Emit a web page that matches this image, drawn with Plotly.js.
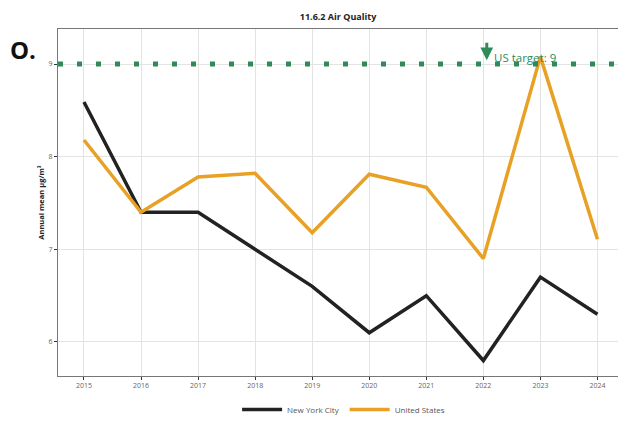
<!DOCTYPE html>
<html>
<head>
<meta charset="utf-8">
<script src="https://cdn.plot.ly/plotly-3.0.1.min.js"></script>
<style>html,body{margin:0;padding:0;background:#fff;}</style>
</head>
<body>
<div id="chart" style="width:618px;height:424px;"></div>
<script>
const years = [2015, 2016, 2017, 2018, 2019, 2020, 2021, 2022, 2023, 2024];
const nyc = [8.59, 7.4, 7.4, 7.0, 6.6, 6.1, 6.5, 5.8, 6.7, 6.3];
const us = [8.18, 7.4, 7.78, 7.82, 7.18, 7.81, 7.67, 6.9, 9.08, 7.11];
const usTarget = 9;
const targetLabel = 'US target: 9';

const green = '#2e8b57';
const data = [
  {x: years, y: nyc, name: 'New York City', type: 'scatter', mode: 'lines',
   line: {color: '#222222', width: 3.5}},
  {x: years, y: us, name: 'United States', type: 'scatter', mode: 'lines',
   line: {color: '#e8a025', width: 3.5}}
];
const layout = {
  width: 618, height: 424,
  margin: {l: 58, r: 0, t: 29, b: 48},
  paper_bgcolor: '#fff', plot_bgcolor: '#fff',
  font: {family: 'Open Sans, sans-serif', color: '#555'},
  title: {text: '<b>11.6.2 Air Quality</b>', font: {size: 9, color: '#222'}, x: 0.547, xanchor: 'center', y: 0.96, yanchor: 'middle'},
  xaxis: {range: [2014.545, 2024.36], tickvals: years, ticktext: years.map(String),
    showgrid: true, gridcolor: '#e3e3e3', gridwidth: 1, zeroline: false,
    showline: true, linecolor: '#777', linewidth: 1, mirror: true,
    ticks: 'outside', ticklen: 3, tickcolor: '#333', tickfont: {size: 7, color: '#666'}},
  yaxis: {range: [5.633, 9.378], tickvals: [6, 7, 8, 9],
    showgrid: true, gridcolor: '#e3e3e3', gridwidth: 1, zeroline: false,
    showline: true, linecolor: '#777', linewidth: 1,
    ticks: 'outside', ticklen: 3, tickcolor: '#333', tickfont: {size: 7, color: '#666'},
    title: {text: '<b>Annual mean µg/m³</b>', font: {size: 7.5, color: '#222'}, standoff: 2}},
  showlegend: true,
  legend: {orientation: 'h', x: 0.51, xanchor: 'center', y: -0.138, yanchor: 'bottom',
    font: {size: 8, color: '#555'}, itemwidth: 40},
  shapes: [{type: 'line', xref: 'paper', x0: 0, x1: 1, yref: 'y', y0: usTarget, y1: usTarget,
    line: {color: green, width: 5, dash: '5px,14px'}, layer: 'above'}],
  annotations: [
    {x: 2022.06, y: usTarget + 0.04, xref: 'x', yref: 'y', text: '', showarrow: true,
     arrowhead: 2, arrowsize: 0.85, arrowwidth: 3, arrowcolor: green, ax: 0, ay: -19},
    {x: 2022.16, y: usTarget + 0.068, xref: 'x', yref: 'y', text: targetLabel, showarrow: false,
     xanchor: 'left', yanchor: 'middle', font: {size: 11.5, color: green}},
    {x: -0.063, y: 0.94, xref: 'paper', yref: 'paper', text: '<b>O.</b>', showarrow: false,
     xanchor: 'center', yanchor: 'middle', font: {size: 24, color: '#111', family: 'Open Sans, sans-serif'}}
  ]
};
Plotly.newPlot('chart', data, layout, {displayModeBar: false, staticPlot: true});
</script>
</body>
</html>
